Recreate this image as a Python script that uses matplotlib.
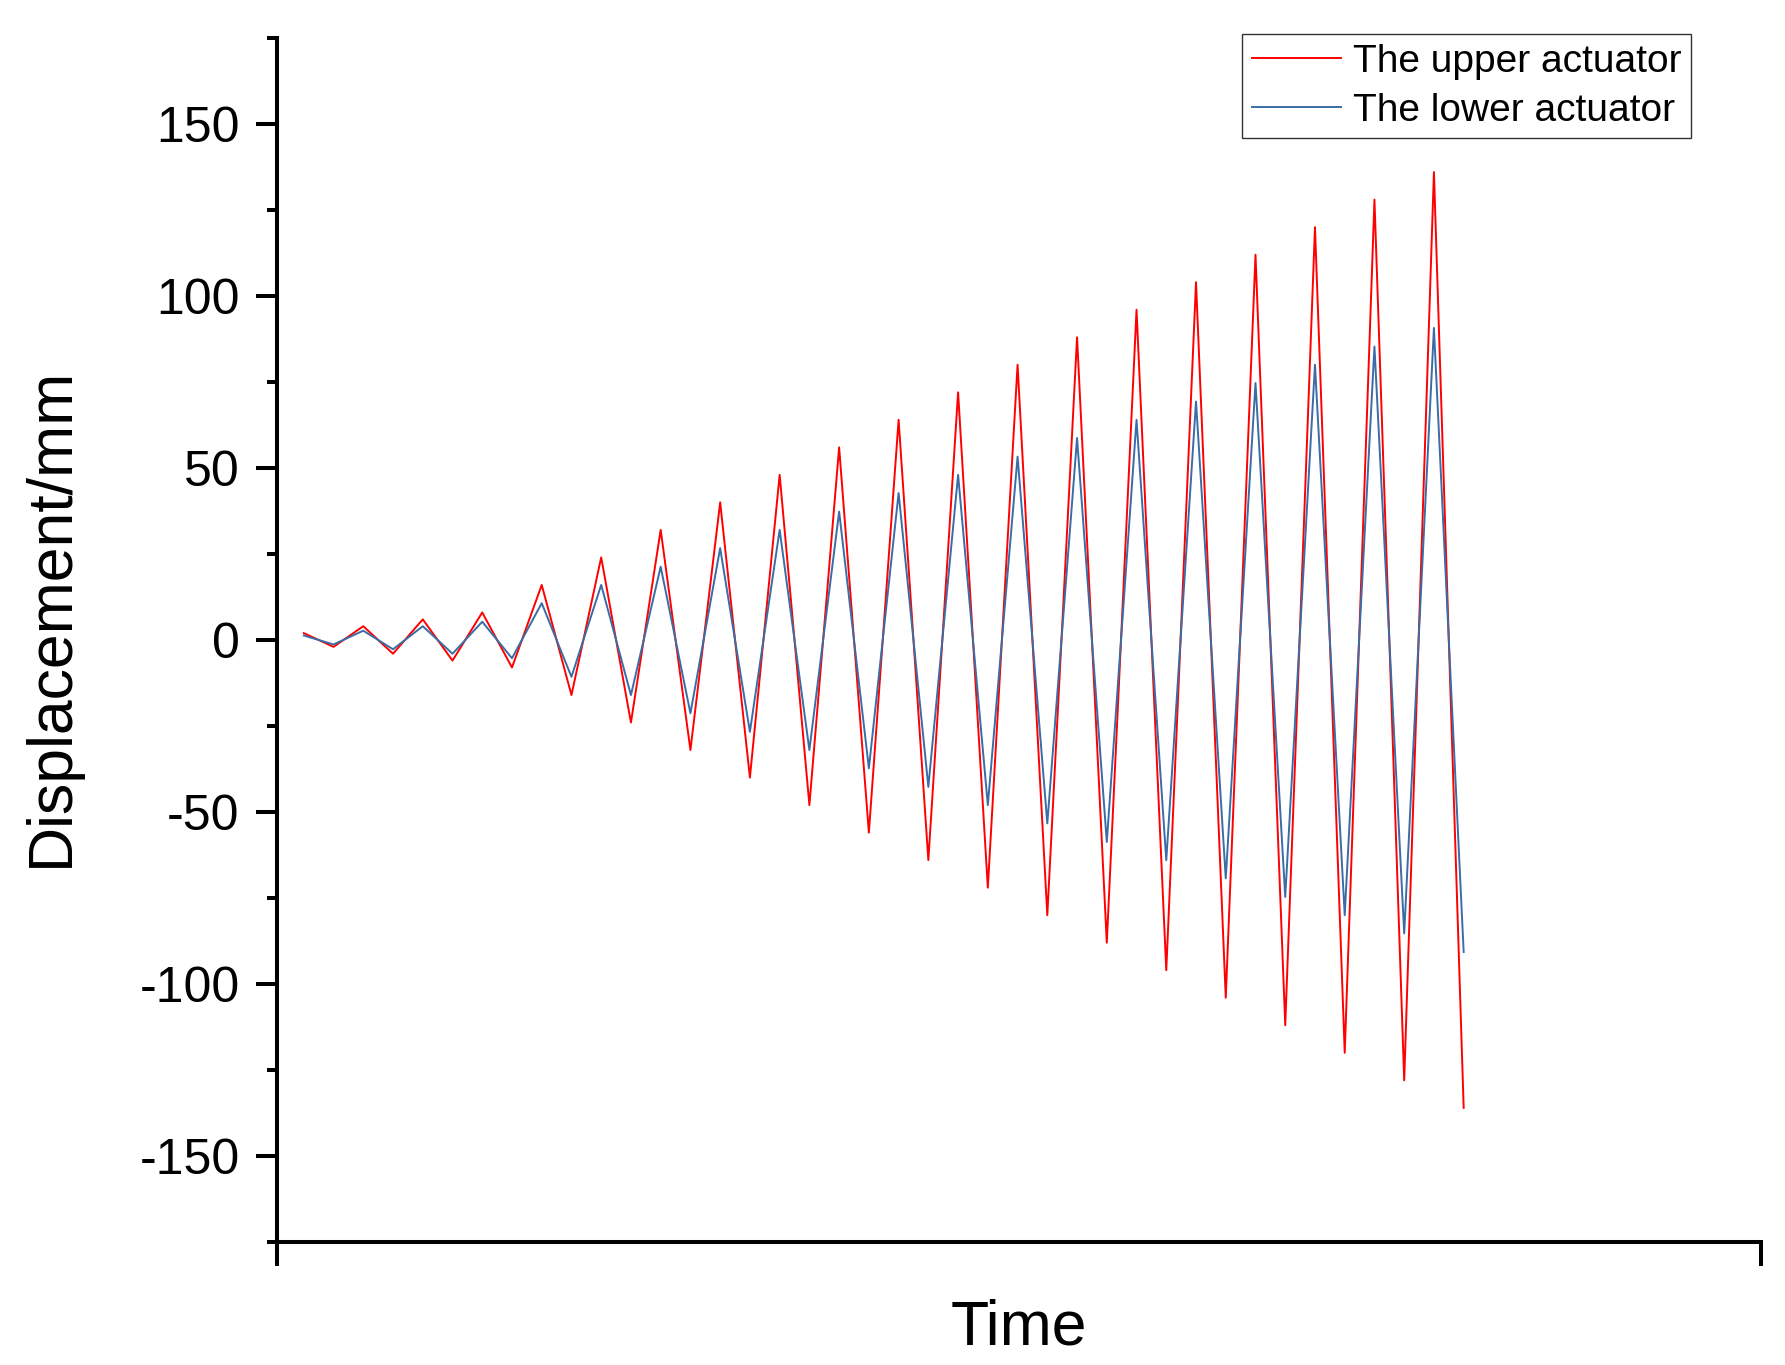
import numpy as np
import matplotlib.pyplot as plt
from matplotlib.ticker import MultipleLocator, NullFormatter

plt.rcParams['font.family'] = ['Liberation Sans', 'DejaVu Sans']

# peak values, one per half cycle
upper = [2, -2, 4, -4, 6, -6, 8, -8, 16, -16, 24, -24, 32, -32, 40, -40,
         48, -48, 56, -56, 64, -64, 72, -72, 80, -80, 88, -88, 96, -96,
         104, -104, 112, -112, 120, -120, 128, -128, 136, -136]
lower = [1.3, -1.3, 2.7, -2.7, 4, -4, 5.3, -5.3, 10.7, -10.7, 16, -16,
         21.3, -21.3, 26.7, -26.7, 32, -32, 37.3, -37.3, 42.7, -42.7,
         48, -48, 53.3, -53.3, 58.7, -58.7, 64, -64, 69.3, -69.3,
         74.7, -74.7, 80, -80, 85.3, -85.3, 90.7, -90.7]
steps = list(range(len(upper)))

fig = plt.figure(figsize=(17.85, 13.65), dpi=100)
ax = fig.add_axes([0.1552, 0.0901, 0.8314, 0.8821])

ax.plot(steps, upper, color='#FF0000', lw=1.4, label='The upper actuator')
ax.plot(steps, lower, color='#3A6CA6', lw=1.4, label='The lower actuator')

ax.set_xlim(-0.9, 49)
ax.set_ylim(-175, 175)

ax.spines['top'].set_visible(False)
ax.spines['right'].set_visible(False)
for s in ['left', 'bottom']:
    ax.spines[s].set_linewidth(2.9)

ax.yaxis.set_major_locator(MultipleLocator(50))
ax.yaxis.set_minor_locator(MultipleLocator(25))
ax.set_xticks([-0.9, 49])
ax.xaxis.set_major_formatter(NullFormatter())
ax.tick_params(axis='y', which='major', length=15, width=2.9, labelsize=36, pad=12)
ax.tick_params(axis='y', which='minor', length=7, width=2.9)
ax.tick_params(axis='x', which='major', length=17, width=2.9)
ax.set_yticks(range(-150, 151, 50))
ax.set_yticklabels(['-150', '-100', '-50', '0', '50', '100', '150'])

ax.set_xlabel('Time', fontsize=45, labelpad=20)
ax.set_ylabel('Displacement/mm', fontsize=45)
ax.yaxis.set_label_coords(-0.132, 0.519)

leg = ax.legend(loc='upper right', bbox_to_anchor=(1691 / 1785, 1 - 34 / 1365),
                bbox_transform=fig.transFigure, fontsize=28, frameon=True,
                fancybox=False, handlelength=2.3, handletextpad=0.3,
                borderpad=0.25, labelspacing=0.33, borderaxespad=0)
leg.get_frame().set_edgecolor('black')
leg.get_frame().set_linewidth(1.0)

fig.savefig('out.png', dpi=100)
